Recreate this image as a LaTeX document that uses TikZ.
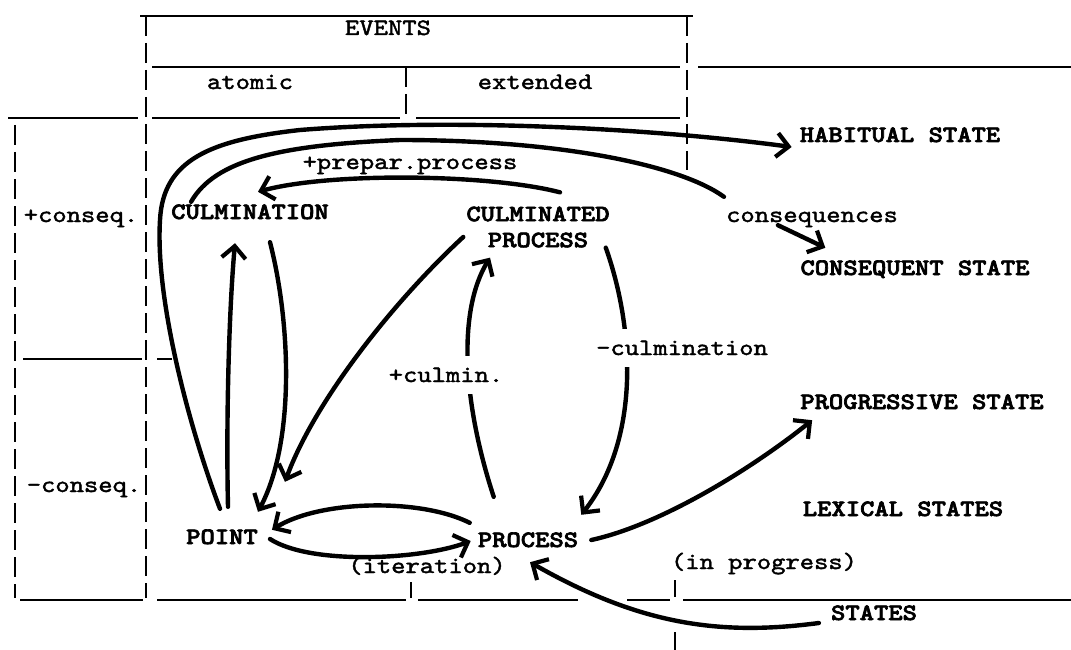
\documentclass[tikz,border=0pt]{standalone}
\usepackage{fontspec}
\usepackage{graphicx}
\usetikzlibrary{arrows.meta,calc}
\newfontfamily\lmtbold[FakeBold=2.6]{lmmonolt10-bold.otf}
\newfontfamily\lmtreg[FakeBold=1.6]{lmmono10-regular.otf}
\newcommand{\twsc}[1]{\scalebox{1.16}[1]{#1}}
\begin{document}
\begin{tikzpicture}[x=1pt,y=-1pt,
  fnt/.style={font=\fontsize{23.5}{26}\selectfont\lmtreg, inner sep=0pt},
  lbl/.style={fnt, text height=14pt, text depth=0pt},
  uclbl/.style={fnt, font=\fontsize{23.5}{26}\selectfont\lmtbold, text height=14pt, text depth=0pt},
  ucml/.style={fnt, font=\fontsize{23.5}{26}\selectfont\lmtbold, align=center},
  grid/.style={line width=2.6pt},
  vgrid/.style={line width=2.2pt, dash pattern=on 20pt off 7pt},
  arr/.style={line width=4.4pt, line cap=round, -{Straight Barb[length=12pt,width=24pt,line width=4.2pt]}},
  plain/.style={line width=4.4pt, line cap=round},
  hide/.style={fill=white, inner xsep=2pt, inner ysep=12pt}]
\useasboundingbox (0,0) rectangle (1071,650);

% grid
\draw[grid] (140,16) -- (693,16);
\draw[grid] (152,67) -- (680,67);
\draw[grid] (698,67) -- (1071,67);
\draw[grid] (8,118) -- (138,118);
\draw[grid] (152,118) -- (400,118);
\draw[grid] (416,118) -- (680,118);
\draw[grid] (23,359) -- (142,359);
\draw[grid] (157,359) -- (172,359);
\draw[grid] (20,600) -- (143,600);
\draw[grid] (157,600) -- (406,600);
\draw[grid] (418,600) -- (578,600);
\draw[grid] (627,600) -- (670,600);
\draw[grid] (683,600) -- (1071,600);
\draw[vgrid] (146,16) -- (146,598);
\draw[vgrid] (15,125) -- (15,598);
\draw[vgrid] (406,67) -- (406,118);
\draw[vgrid] (687,16) -- (687,170);
\draw[vgrid] (411,582) -- (411,598);
\draw[vgrid] (675,580) -- (675,597);
\draw[vgrid] (675,632) -- (675,650);

% texts
\node[lbl] (events) at (388,28) {\twsc{EVENTS}};
\node[lbl] (atomic) at (250,82) {\twsc{atomic}};
\node[lbl] (extended) at (535,82) {\twsc{extended}};
\node[lbl] (pcons) at (81,215) {\twsc{+conseq.}};
\node[lbl] (mcons) at (84,485) {\twsc{-conseq.}};
\node[uclbl] (culm) at (250,212) {\twsc{CULMINATION}};
\node[ucml] (cproc) at (538,227) {\twsc{CULMINATED}\\\twsc{PROCESS}};
\node[uclbl] (hab) at (900,135) {\twsc{HABITUAL STATE}};
\node[lbl] (consq) at (812,215) {\twsc{consequences}};
\node[uclbl] (cstate) at (915,268) {\twsc{CONSEQUENT STATE}};
\node[lbl] (prep) at (410,162) {\twsc{+prepar.process}};
\node[uclbl] (prog) at (922,402) {\twsc{PROGRESSIVE STATE}};
\node[uclbl] (lex) at (903,509) {\twsc{LEXICAL STATES}};
\node[uclbl] (point) at (222,537) {\twsc{POINT}};
\node[uclbl] (proc) at (528,540) {\twsc{PROCESS}};
\node[lbl] (iter) at (427,566) {\twsc{(iteration)}};
\node[lbl] (inprog) at (764,562) {\twsc{(in progress)}};
\node[uclbl] (states) at (874,613) {\twsc{STATES}};

% connectors
\draw[arr] ($(point.north)+(-2,-21)$) .. controls (190,430) and (155,300) .. (160,220)
  .. controls (163,160) and (210,140) .. (300,130)
  .. controls (450,118) and (650,128) .. ($(hab.west)+(-8,12)$);
\draw[plain] ($(culm.north west)+(20,-3)$) .. controls (215,160) and (280,145) .. (400,140)
  .. controls (560,140) and (680,165) .. ($(consq.north west)+(-2,-11)$);
\draw[arr] ($(consq.south west)+(52,3)$) -- ($(cstate.north west)+(25,-13)$);
\draw[arr] ($(cproc.north)+(22,-14)$) .. controls (490,174) and (330,172) .. ($(culm.north)+(8,-13)$);
\draw[arr] ($(point.north)+(6,-23)$) .. controls (226,420) and (229,310) .. ($(culm.south)+(-15,24)$);
\draw[arr] ($(culm.south)+(20,23)$) .. controls (290,320) and (296,440) .. ($(point.north east)+(0,-18)$);
\draw[arr] ($(cproc.west)+(-3,10)$) .. controls (395,300) and (315,400) .. ($(point.north east)+(27,-48)$);
\draw[arr] ($(proc.north west)+(16,-36)$) .. controls (462,400) and (458,310) .. ($(cproc.south)+(-48,10)$);
\draw[arr] ($(cproc.south east)+(-4,0)$) .. controls (635,330) and (640,440) .. ($(proc.north east)+(3,-18)$);
\draw[arr] ($(proc.north west)+(-8,-10)$) .. controls (420,498) and (320,500) .. ($(point.north east)+(14,0)$);
\draw[arr] ($(point.east)+(12,2)$) .. controls (310,565) and (420,560) .. ($(proc.west)+(-7,1)$);
\draw[arr] ($(proc.east)+(13,0)$) .. controls (660,525) and (750,470) .. ($(prog.south west)+(12,11)$);
\draw[arr] ($(states.west)+(-12,10)$) .. controls (720,636) and (640,625) .. ($(proc.south)+(2,15)$);

% labels on connectors
\node[lbl,hide] (mculm) at (682,348) {\twsc{-culmination}};
\node[lbl,hide] (pculm) at (446,375) {\twsc{+culmin.}};
\end{tikzpicture}
\end{document}
